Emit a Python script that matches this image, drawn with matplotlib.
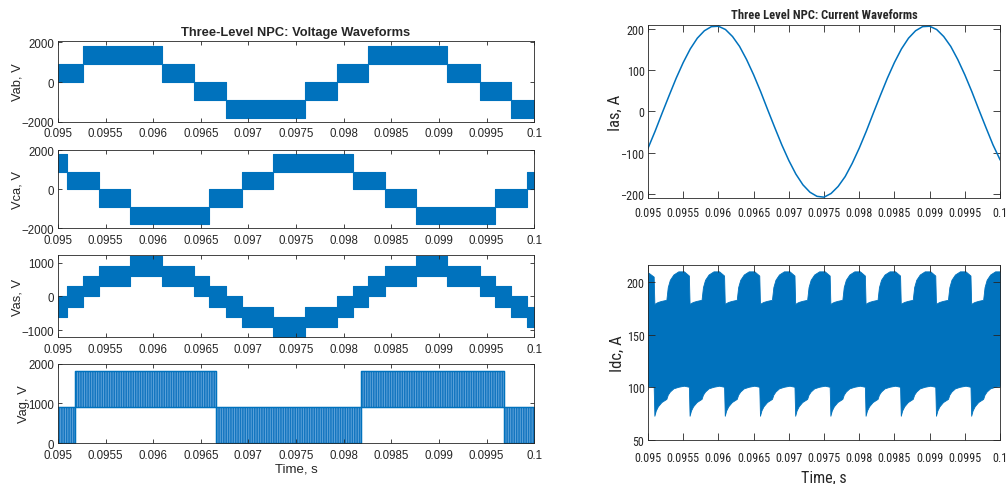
import numpy as np
import matplotlib.pyplot as plt
from matplotlib import font_manager
from matplotlib.font_manager import FontProperties
from matplotlib.ticker import FuncFormatter

# Three-level NPC scope traces, 0.095 s .. 0.1 s
# PWM bands: break times (s) and band low / high level (V) between breaks
vab_t = [0.095, 0.09526, 0.09609, 0.09643, 0.09676, 0.09759, 0.09793,
         0.09826, 0.09909, 0.09943, 0.09976, 0.1]
vab_lo = [0, 900, 0, -900, -1800, -900, 0, 900, 0, -900, -1800]
vab_hi = [900, 1800, 900, 0, -900, 0, 900, 1800, 900, 0, -900]

vca_t = [0.095, 0.0951, 0.09543, 0.09576, 0.09659, 0.09693, 0.09726,
         0.0981, 0.09843, 0.09876, 0.09959, 0.09993, 0.1]
vca_lo = [900, 0, -900, -1800, -900, 0, 900, 0, -900, -1800, -900, 0]
vca_hi = [1800, 900, 0, -900, 0, 900, 1800, 900, 0, -900, 0, 900]

vas_t = [0.095, 0.0951, 0.09526, 0.09543, 0.09576, 0.09609, 0.09643,
         0.09659, 0.09676, 0.09693, 0.09726, 0.09759, 0.09793, 0.0981,
         0.09826, 0.09843, 0.09876, 0.09909, 0.09943, 0.09959, 0.09976,
         0.09993, 0.1]
vas_lo = [-600, -300, 0, 300, 600, 300, 0, -300, -600, -900, -1200, -900,
          -600, -300, 0, 300, 600, 300, 0, -300, -600, -900]
vas_hi = [0, 300, 600, 900, 1200, 900, 600, 300, 0, -300, -600, -300,
          0, 300, 600, 900, 1200, 900, 600, 300, 0, -300]

vag_t = [0.095, 0.09518, 0.09666, 0.09818, 0.09968, 0.1]
vag_lo = [0, 900, 0, 900, 0]
vag_hi = [900, 1800, 900, 1800, 900]

# phase current, sampled every 0.1 ms
ias = [-89, -48, -4, 39, 81, 119, 152, 178, 196, 206,
       207, 199, 182, 158, 126, 89, 48, 4, -39, -81,
       -119, -152, -178, -196, -206, -208, -199, -182, -158, -126,
       -89, -48, -4, 39, 81, 119, 152, 178, 196, 206,
       207, 199, 182, 158, 126, 89, 48, 4, -39, -81, -117]

# dc current ripple band: times where the envelope drops,
# and the envelope shape read after each drop (offset s, upper A, lower A)
idc_drop_t = [0.09509, 0.09559, 0.09609, 0.09659, 0.09709,
              0.09759, 0.09809, 0.09859, 0.09909, 0.09959]
idc_off = [0, 0.00002, 0.00005, 0.0001, 0.00017, 0.00019, 0.00022,
           0.00027, 0.00034, 0.00042, 0.00049]
idc_up = [179, 180, 181, 182, 183, 195, 202, 207, 210, 210, 206]
idc_dn = [73, 78, 82, 86, 89, 93, 96, 99, 100.5, 101.5, 100.5]
idc_head_t = [0.095, 0.09508]
idc_head_up = [209, 205]
idc_head_dn = [101, 100.5]

xticks = [0.095, 0.0955, 0.096, 0.0965, 0.097, 0.0975,
          0.098, 0.0985, 0.099, 0.0995, 0.1]

BLUE = '#0072BD'
TXT = '#262626'

plt.rcParams['font.family'] = ['Liberation Sans', 'DejaVu Sans']
plt.rcParams['hatch.linewidth'] = 0.6


# look for a condensed sans for the right-hand (current) panels
def find_narrow(bold):
    best = None
    for f in font_manager.fontManager.ttflist:
        key = (f.name + ' ' + f.fname).lower()
        if not ('narrow' in key or 'condensed' in key or f.stretch in ('condensed', 'semi-condensed')):
            continue
        if 'mono' in key or 'serif' in key and 'sans' not in key or f.style != 'normal':
            continue
        w = f.weight if isinstance(f.weight, int) else {'normal': 400, 'regular': 400, 'bold': 700}.get(f.weight, 400)
        if (w >= 600) != bold:
            continue
        rank = 0 if 'liberation' in key else 1 if 'roboto' in key else 2 if 'noto' in key else 3
        if best is None or rank < best[0]:
            best = (rank, f.fname)
    return FontProperties(fname=best[1]) if best else None


NR = find_narrow(False)
NB = find_narrow(True)
if NR is None:
    NR = FontProperties(family='Liberation Sans')
    nsize = 7.3
else:
    nsize = 8.7
if NB is None:
    NB = FontProperties(family='Liberation Sans', weight='bold')
    tsize = 7.8
else:
    tsize = 9


def band(t, lo, hi):
    x = np.repeat(t, 2)[1:-1]
    return x, np.repeat(lo, 2), np.repeat(hi, 2)


def style(ax, ylim, yticks, ylab, fp, fs, tl, xpad, lfs, lpad):
    ax.set_xlim(0.095, 0.1)
    ax.set_ylim(*ylim)
    ax.set_xticks(xticks)
    ax.set_yticks(yticks)
    ax.xaxis.set_major_formatter(FuncFormatter(lambda v, p: '%g' % round(v, 5)))
    ax.tick_params(direction='in', top=True, right=True, length=tl,
                   width=0.6, colors=TXT, labelsize=fs)
    ax.tick_params(axis='x', pad=xpad)
    ax.tick_params(axis='y', pad=2.5)
    for lab in ax.get_xticklabels() + ax.get_yticklabels():
        lab.set_fontproperties(fp)
        lab.set_fontsize(fs)
    for s in ax.spines.values():
        s.set_color(TXT)
        s.set_linewidth(0.6)
    ax.set_ylabel(ylab, color=TXT, fontproperties=fp, fontsize=lfs, labelpad=lpad)


fig = plt.figure(figsize=(10.08, 4.85), dpi=100)
LF = FontProperties(family='Liberation Sans')

left = [
    (0.7468, 0.1676, vab_t, vab_lo, vab_hi, (-2000, 2100), [-2000, 0, 2000], 'Vab, V'),
    (0.5274, 0.1606, vca_t, vca_lo, vca_hi, (-2000, 2000), [-2000, 0, 2000], 'Vca, V'),
    (0.3025, 0.1693, vas_t, vas_lo, vas_hi, (-1210, 1225), [-1000, 0, 1000], 'Vas, V'),
    (0.0841, 0.1643, vag_t, vag_lo, vag_hi, (0, 2000), [0, 1000, 2000], 'Vag, V'),
]
for i, (y0, h, t, lo, hi, yl, yt, lab) in enumerate(left):
    ax = fig.add_axes([0.0575, y0, 0.4724, h])
    x, ylo, yhi = band(t, lo, hi)
    if lab == 'Vag, V':
        ax.fill_between(x, ylo, yhi, facecolor='#1476c0', edgecolor=BLUE, linewidth=0.8)
        ax.fill_between(x, ylo, yhi, facecolor='none', edgecolor='#6aaade',
                        hatch='|||||||', linewidth=0)
        ax.plot(x, yhi, color=BLUE, lw=1.0)
        ax.plot(x, ylo, color=BLUE, lw=1.0)
    else:
        ax.fill_between(x, ylo, yhi, facecolor=BLUE, edgecolor=BLUE, linewidth=0.8)
    style(ax, yl, yt, lab, LF, 8.3, 3, 4, 9.3, -1)
    if i == 0:
        ax.set_title('Three-Level NPC: Voltage Waveforms', fontsize=9.3,
                     fontweight='bold', color=TXT, pad=4)
    if i == 3:
        ax.set_xlabel('Time, s', color=TXT, fontsize=9.5, labelpad=1)

# current panels
ax = fig.add_axes([0.6429, 0.5897, 0.3492, 0.3567])
ias_t = np.linspace(0.095, 0.1, len(ias))
ax.plot(ias_t, ias, color=BLUE, lw=1.1)
style(ax, (-210, 210), [-200, -100, 0, 100, 200], 'Ias, A', NR, nsize, 5, 6, 12, -2)
ax.set_title('Three Level NPC: Current Waveforms', fontproperties=NB, fontsize=tsize,
             color=TXT, pad=5)

ax = fig.add_axes([0.6429, 0.0907, 0.3492, 0.3608])
it, iu, idn = list(idc_head_t), list(idc_head_up), list(idc_head_dn)
for d in idc_drop_t:
    it += [d + o for o in idc_off]
    iu += idc_up
    idn += idc_dn
ax.fill_between(it, idn, iu, facecolor=BLUE, edgecolor=BLUE, linewidth=0.6)
style(ax, (50, 216), [50, 100, 150, 200], 'Idc, A', NR, nsize, 5, 8, 12, 1)
ax.set_xlabel('Time, s', color=TXT, fontproperties=NR, fontsize=11.5, labelpad=4)

fig.savefig('out.png', dpi=100, facecolor='white')
